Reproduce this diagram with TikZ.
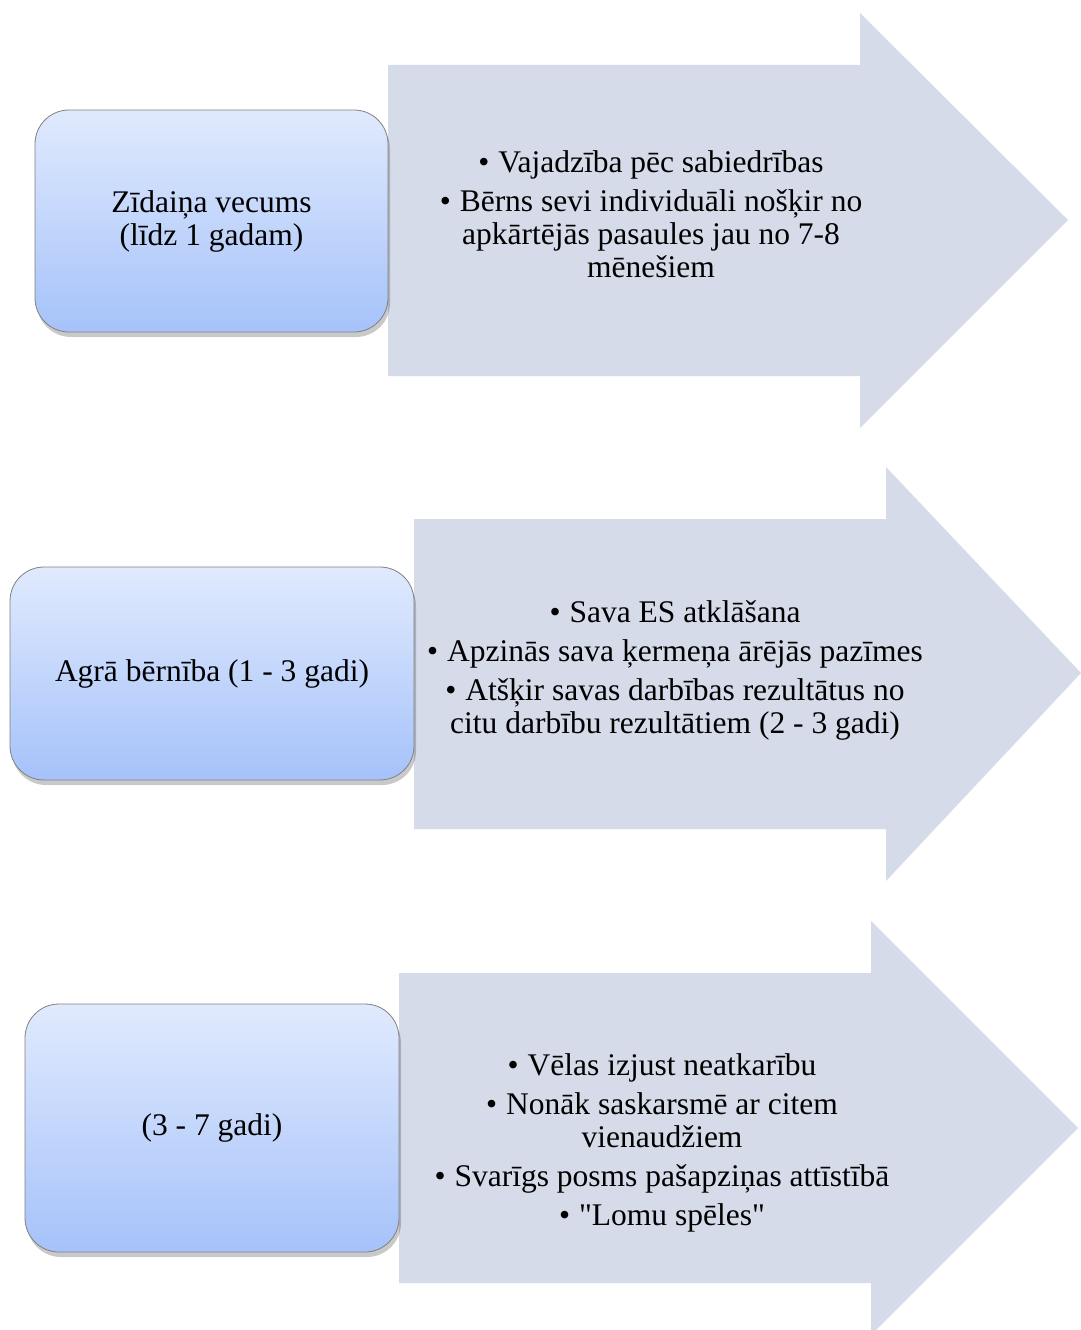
\documentclass[tikz,border=0pt]{standalone}
\usepackage{fontspec}
\setmainfont{Liberation Serif}
\usetikzlibrary{shadows}
\definecolor{arrowfill}{HTML}{D5DBE9}
\definecolor{boxtop}{HTML}{E0EAFD}
\definecolor{boxbot}{HTML}{A6C2FA}
\definecolor{boxedge}{HTML}{808080}
\newcommand{\bul}{•\hspace{9pt}}
\tikzset{
  stagebox/.style={rectangle, rounded corners=34pt, draw=boxedge, line width=0.8pt,
    top color=boxtop, bottom color=boxbot, align=center,
    drop shadow={shadow xshift=2pt, shadow yshift=-5pt, opacity=0.3, fill=black!70},
    font=\fontsize{31.5}{33}\selectfont, inner sep=0pt},
  arrowshape/.style={fill=arrowfill, draw=none},
  listtext/.style={align=center, font=\fontsize{31.5}{33}\selectfont, inner sep=0pt}
}
\begin{document}
\begin{tikzpicture}[x=1pt, y=-1pt]
\useasboundingbox (0,0) rectangle (1081,1330);
% arrows
\path[arrowshape] (388,65) -- (860,65) -- (860,13) -- (1068,220) -- (860,428) -- (860,376) -- (388,376) -- cycle;
\path[arrowshape] (414,519) -- (886,519) -- (886,467) -- (1081,673) -- (886,881) -- (886,829) -- (414,829) -- cycle;
\path[arrowshape] (399,973) -- (871,973) -- (871,921) -- (1078,1128) -- (871,1335) -- (871,1283) -- (399,1283) -- cycle;
% boxes
\node[stagebox, minimum width=353pt, minimum height=222pt] (b1) at (211.5,221) {Zīdaiņa vecums\\ (līdz 1 gadam)};
\node[stagebox, minimum width=404pt, minimum height=213pt] (b2) at (212,673.5) {Agrā bērnība (1 - 3 gadi)};
\node[stagebox, minimum width=374pt, minimum height=248pt] (b3) at (212,1128) {(3 - 7 gadi)};
% texts
\node[listtext] (t1) at (651,214) {\bul Vajadzība pēc sabiedrības\\[6pt] \bul Bērns sevi individuāli nošķir no\\ apkārtējās pasaules jau no 7-8\\ mēnešiem};
\node[listtext] (t2) at (675,670) {\bul Sava ES atklāšana\\[6pt] \bul Apzinās sava ķermeņa ārējās pazīmes\\[6pt] \bul Atšķir savas darbības rezultātus no\\ citu darbību rezultātiem (2 - 3 gadi)};
\node[listtext] (t3) at (662,1143) {\bul Vēlas izjust neatkarību\\[6pt] \bul Nonāk saskarsmē ar citem\\ vienaudžiem\\[6pt] \bul Svarīgs posms pašapziņas attīstībā\\[6pt] \bul \textquotedbl Lomu spēles\textquotedbl};
\end{tikzpicture}
\end{document}
